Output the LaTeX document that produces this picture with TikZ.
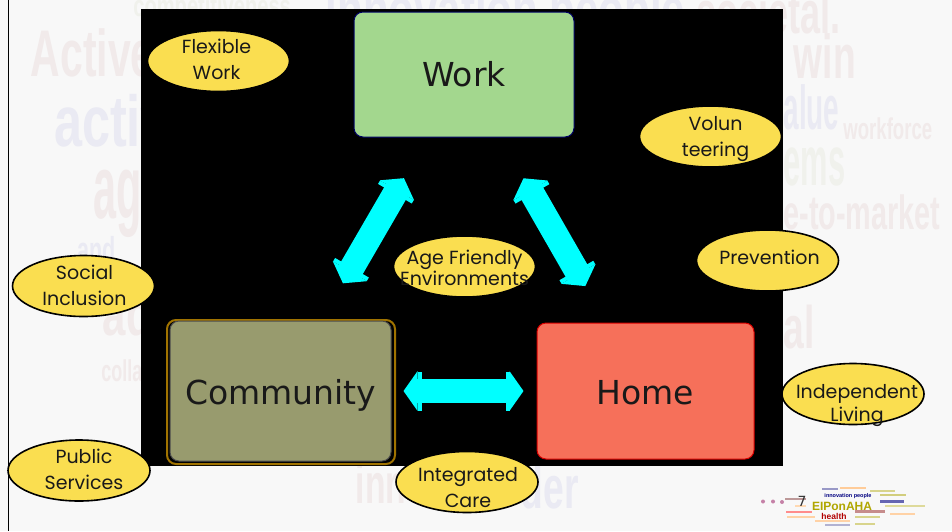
\documentclass[tikz,border=0pt]{standalone}
\usepackage{fontspec}
\usepackage{tikz}
\usetikzlibrary{arrows.meta,shapes.geometric}
\setmainfont{DejaVu Sans}
\newfontfamily\bubblefont{Poppins}
\newfontfamily\wordfont{Liberation Sans}
\definecolor{slidebg}{RGB}{248,248,248}
\definecolor{bubble}{RGB}{250,222,80}
\definecolor{workgreen}{RGB}{163,215,142}
\definecolor{commolive}{RGB}{152,155,110}
\definecolor{homered}{RGB}{246,112,90}
\definecolor{goldedge}{RGB}{160,115,0}
\definecolor{wordpink}{RGB}{241,234,234}
\definecolor{wordblue}{RGB}{234,234,243}
\definecolor{wordgrey}{RGB}{240,241,236}
\definecolor{arrowcyan}{RGB}{0,255,255}
\newcommand{\shifttext}[3][0]{\makebox[0pt]{\hspace*{#1pt}\hspace*{#1pt}\raisebox{-#2pt}[0pt][0pt]{\begin{tabular}{@{}c@{}}#3\end{tabular}}}}
\newcommand{\wordsize}{\fontsize{10}{10}\selectfont}

\begin{document}
\begin{tikzpicture}[x=1pt,y=-1pt]
            \useasboundingbox (0,0) rectangle (952,531);
            \fill[slidebg] (0,0) rectangle (952,531);
            \draw[black,line width=1.4pt] (8.5,0) -- (8.5,531);

            \begin{scope}[every node/.style={font=\wordfont\bfseries\wordsize,text=wordpink,inner sep=0pt,anchor=base west}]
                \node[scale=6.6,xscale=0.62] (w1) at (30,76) {Active};
                \node[scale=7.2,xscale=0.7,text=wordblue] (w2) at (53,146) {active};
                \node[scale=9,xscale=0.46] (w3) at (93,218) {age};
                \node[scale=3.6,xscale=0.6,text=wordblue] (w4) at (77,262) {and};
                \node[scale=6,xscale=0.7] (w5) at (102,335) {ad};
                \node[scale=3,xscale=0.6] (w6) at (101,381) {colla};
                \node[scale=5.6,xscale=0.6] (w7) at (355,503) {inno};
                \node[scale=6,xscale=0.62,text=wordblue] (w8) at (520,508) {der};
                \node[scale=6.2,xscale=0.6] (w9) at (793,78) {win};
                \node[scale=6.2,xscale=0.45,text=wordblue] (w10) at (783,129) {alue};
                \node[scale=3,xscale=0.62] (w11) at (843,139) {workforce};
                \node[scale=7,xscale=0.44,text=wordgrey] (w12) at (783,185) {ems};
                \node[scale=4.8,xscale=0.6] (w13) at (783,229) {e-to-market};
                \node[scale=6,xscale=0.62] (w14) at (783,348) {al};
                \node[scale=6,xscale=0.6] (w15) at (696,33) {societal.};
                \node[scale=3,xscale=0.67,text=wordgrey] (w16) at (133,16) {competitiveness};
                \node[scale=6,xscale=0.7,text=wordblue] (w17) at (325,30) {innovation people};
            \end{scope}

            \fill[black] (141,9) rectangle (783,466);

            % small word cloud in the corner
            \fill[blue!45!black!40] (822,488) rectangle (838,490);
            \fill[orange!40] (840,487) rectangle (866,489);
            \fill[olive!35] (870,490) rectangle (895,492);
            \fill[olive!40] (880,494) rectangle (906,496);
            \fill[red!35!black!40] (785,498) rectangle (806,500);
            \fill[orange!30] (795,505) rectangle (806,507);
            \fill[blue!50!black!60] (880,500) rectangle (904,503);
            \fill[olive!30] (885,505) rectangle (925,507);
            \fill[red!45] (786,511) rectangle (812,513);
            \fill[red!50!black!45] (855,510) rectangle (885,513);
            \fill[orange!35] (890,513) rectangle (915,515);
            \fill[orange!35] (787,516) rectangle (815,518);
            \fill[olive!35] (855,516) rectangle (880,518);
            \fill[orange!35] (815,520) rectangle (850,522);
            \fill[blue!40!black!30] (825,524) rectangle (850,526);
            \fill[olive!35] (855,523) rectangle (875,525);
            \fill[magenta!60!black!60] (763,501.5) circle (2pt);
            \fill[magenta!60!black!60] (773,501.5) circle (2pt);
            \fill[magenta!60!black!60] (782,502) circle (2pt);
            \begin{scope}[every node/.style={inner sep=0pt}]
                \node[text=olive!70!yellow,font=\wordfont\bfseries\fontsize{12}{12}\selectfont] (cloudname) at (842,506) {EIPonAHA};
                \node[text=red!70!black,font=\wordfont\bfseries\fontsize{8.5}{9}\selectfont] (cloudhealth) at (834,516) {health};
                \node[text=blue!50!black,font=\wordfont\bfseries\fontsize{5.5}{6}\selectfont] (cloudpeople) at (848,496) {innovation people};
            \end{scope}
            \node[font=\fontsize{14}{14}\selectfont,text=black!80,inner sep=0pt] (pagenum) at (802,501) {7};

            \draw[goldedge,line width=2pt,rounded corners=9pt] (167,320) rectangle (395,464);
            \begin{scope}[every node/.style={rectangle,rounded corners=9pt,inner sep=0pt,text=black!90,font=\fontsize{33}{33}\selectfont}]
                \node[fill=workgreen,draw=blue!40!black,line width=1pt,minimum width=220pt,minimum height=125pt] (work) at (464,74.5) {\raisebox{-12pt}[0pt][0pt]{Work}};
                \node[fill=commolive,draw=black!70,line width=1pt,minimum width=221pt,minimum height=140pt] (community) at (280.5,391) {\raisebox{-13pt}[0pt][0pt]{Community}};
                \node[fill=homered,draw=red!85!black,line width=1pt,minimum width=217pt,minimum height=136pt] (home) at (645.5,391) {\raisebox{-13pt}[0pt][0pt]{Home}};
            \end{scope}

            \begin{scope}[every edge/.style={draw=arrowcyan,{Triangle[length=14pt,width=39pt]Rectangle[length=4pt,width=39pt,sep=0pt]}-{Rectangle[length=4pt,width=39pt,sep=0pt]Triangle[length=14pt,width=39pt]}}]
                \path (community) edge[line width=24pt,shorten <=12pt,shorten >=13pt] (home);
                \path (work) edge[line width=25pt,shorten <=47pt,shorten >=43pt] (community);
                \path (work) edge[line width=25pt,shorten <=47pt,shorten >=42pt] (home);
            \end{scope}

            \begin{scope}[every node/.style={ellipse,fill=bubble,draw=black,line width=1.6pt,inner sep=0pt,minimum width=142pt,minimum height=61pt,align=center,text=black!90,font=\bubblefont\fontsize{19}{26}\selectfont}]
                \node (flexible) at (218.5,61) {\shifttext[-2]{5}{Flexible\\Work}};
                \node (volunteering) at (710.5,136.5) {\shifttext[5]{6}{Volun\\teering}};
                \node (prevention) at (767.5,260.5) {\shifttext[2]{3}{Prevention}};
                \node (social) at (83.5,286) {\shifttext[1]{5.5}{Social\\Inclusion}};
                \node (public) at (79,470.5) {\shifttext[5]{5}{Public\\Services}};
                \node (integrated) at (467,482) {\shifttext[1]{12}{Integrated\\Care}};
                \node[font=\bubblefont\fontsize{19}{23}\selectfont] (independent) at (853,394) {\shifttext[4]{16}{Independent\\Living}};
                \node[font=\bubblefont\fontsize{19}{21}\selectfont] (age) at (464.5,266.5) {\shifttext{9}{Age Friendly\\Environments}};
            \end{scope}
        \end{tikzpicture}
\end{document}
